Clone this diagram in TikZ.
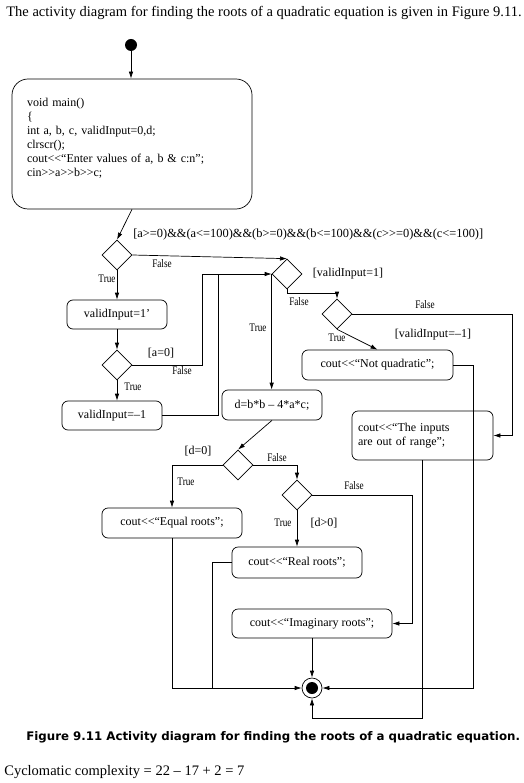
\documentclass[tikz,border=0pt]{standalone}
\usepackage{fontspec}
\setmainfont{Liberation Serif}[Ligatures=TeXOff]
\newfontfamily\capfont{DejaVu Sans}
\newfontfamily\tffont[FakeStretch=0.8,Ligatures=TeXOff]{Liberation Serif}
\usetikzlibrary{shapes.geometric,arrows.meta,positioning}
\tikzstyle{act} = [draw,rounded corners=6pt,inner sep=0pt,font=\fontsize{12}{14}\selectfont]
\tikzstyle{branch} = [draw,diamond,inner sep=0pt,minimum size=30pt]
\tikzstyle{tf} = [inner sep=0pt,font=\tffont\fontsize{11.5}{11.5}\selectfont]
\tikzstyle{guard} = [inner sep=0pt,font=\fontsize{12}{12}\selectfont]
\tikzstyle{dot} = [circle,fill=black,inner sep=0pt,minimum size=12pt]
\tikzstyle{final} = [circle,draw,inner sep=0pt,minimum size=20pt,path picture={\fill (path picture bounding box.center) circle (6pt);}]
\tikzset{>={Latex[length=7pt,width=4.5pt]}}

\begin{document}
\begin{tikzpicture}[x=1pt,y=-1pt,line width=0.7pt]
    \useasboundingbox (0,0) rectangle (523,783);
    \node [anchor=west,inner sep=0pt,font=\fontsize{14.5}{14.5}\selectfont] (intro) at (6,13) {The activity diagram for finding the roots of a quadratic equation is given in Figure 9.11.};

    \node [dot] (start) at (131,45) {};
    \node [act,rounded corners=16pt,minimum width=240pt,minimum height=130pt,text width=210pt,align=left] (main) at (132,144) {void main()\\ \{\\ int a, b, c, validInput=0,d;\\ clrscr();\\ cout<<“Enter values of a, b \& c:n”;\\ cin>>a>>b>>c;\\ \mbox{}};

    \node [branch] (d1) at (117,255) {};
    \node [branch] (d2) at (287,274) {};
    \node [branch] (d3) at (117,365) {};
    \node [branch] (d4) at (337,314) {};
    \node [branch] (d5) at (238,465) {};
    \node [branch] (d6) at (297,495) {};

    \node [act,minimum width=100pt,minimum height=29pt] (valid1) at (117,314.5) {validInput=1’};
    \node [act,minimum width=100pt,minimum height=29pt] (valid2) at (112,415.5) {validInput=–1};
    \node [act,minimum width=100pt,minimum height=30pt] (disc) at (272,405) {d=b*b – 4*a*c;};
    \node [act,minimum width=151pt,minimum height=30pt] (notq) at (377.5,365) {cout<<“Not quadratic”;};
    \node [act,minimum width=141pt,minimum height=49pt,text width=129pt,align=left] (range) at (422.5,435.5) {cout<<“The inputs\\ are out of range”;};
    \node [act,minimum width=140pt,minimum height=30pt] (equal) at (172,523) {cout<<“Equal roots”;};
    \node [act,minimum width=130pt,minimum height=31pt] (real) at (297,562.5) {cout<<“Real roots”;};
    \node [act,minimum width=160pt,minimum height=29pt] (imag) at (312,623.5) {cout<<“Imaginary roots”;};
    \node [final] (stop) at (312,688) {};

    \coordinate (j1) at (202,274);
    \coordinate (j2) at (218,274);
    \coordinate (j3) at (512,435.5);
    \coordinate (j4) at (473,688);
    \coordinate (j5) at (422.5,718);
    \coordinate (j6) at (412,623.5);
    \coordinate (j7) at (212,688);

    \draw [->] (start) -- (start |- main.north);
    \draw [->] (main.south) -- (d1.north);
    \draw [->] (d1.east) -- (d2.north);
    \draw [->] (d1.south) -- (valid1.north);
    \draw [->] (valid1.south) -- (d3.north);
    \draw [->] (d3.east) -| (j1) -- (d2.west);
    \draw [->] (d3.south) -- (d3.south |- valid2.north);
    \draw (valid2.east) -| (j2);
    \draw [->] (d2.west) -- (d2.west |- disc.north);
    \draw [->] (d2.south) -- ++(0,4) -| (d4.north);
    \draw [->] (d4.east) -| (j3) -- (range.east);
    \draw [->] (d4.south) -- (notq.north);
    \draw [->] (notq.east) -| (j4) -- (stop.east);
    \draw [->] (range.south) -- (j5) -| (stop.south);
    \draw [->] (disc.south) -- (d5.north);
    \draw [->] (d5.west) -| (equal.north);
    \draw [->] (d5.east) -| (d6.north);
    \draw [->] (d6.south) -- (real.north);
    \draw [->] (d6.east) -| (j6) -- (imag.east);
    \draw [->] (equal.south) |- (stop.west);
    \draw (real.west) -| (j7);
    \draw [->] (imag.south) -- (stop.north);

    \node [guard,anchor=west,font=\fontsize{12.4}{12.4}\selectfont] (cond) at (133,235) {[a>=0)\&\&(a<=100)\&\&(b>=0)\&\&(b<=100)\&\&(c>>=0)\&\&(c<=100)]};
    \node [tf] (f1) at (162,264) {False};
    \node [tf] (t1) at (107,279) {True};
    \node [guard] (g1) at (348,274) {[validInput=1]};
    \node [guard] (g2) at (161,353) {[a=0]};
    \node [tf] (f2) at (182,371) {False};
    \node [tf] (t2) at (133,387) {True};
    \node [tf] (t3) at (258,328) {True};
    \node [tf] (f3) at (299,302) {False};
    \node [tf] (f4) at (425,305) {False};
    \node [tf] (t4) at (337,338) {True};
    \node [guard] (g3) at (433,335) {[validInput=–1]};
    \node [guard] (g4) at (198,451) {[d=0]};
    \node [tf] (t5) at (186,482) {True};
    \node [tf] (f5) at (277,458) {False};
    \node [tf] (f6) at (354,486) {False};
    \node [tf] (t6) at (283,523) {True};
    \node [guard] (g5) at (324,523) {[d>0]};

    \node [anchor=west,inner sep=0pt,font=\capfont\bfseries\fontsize{11.8}{13}\selectfont] (caption) at (26,737) {Figure 9.11 Activity diagram for finding the roots of a quadratic equation.};
    \node [anchor=west,inner sep=0pt,font=\fontsize{14.5}{14.5}\selectfont] (cyclo) at (4,772) {Cyclomatic complexity = 22 – 17 + 2 = 7};
\end{tikzpicture}
\end{document}
